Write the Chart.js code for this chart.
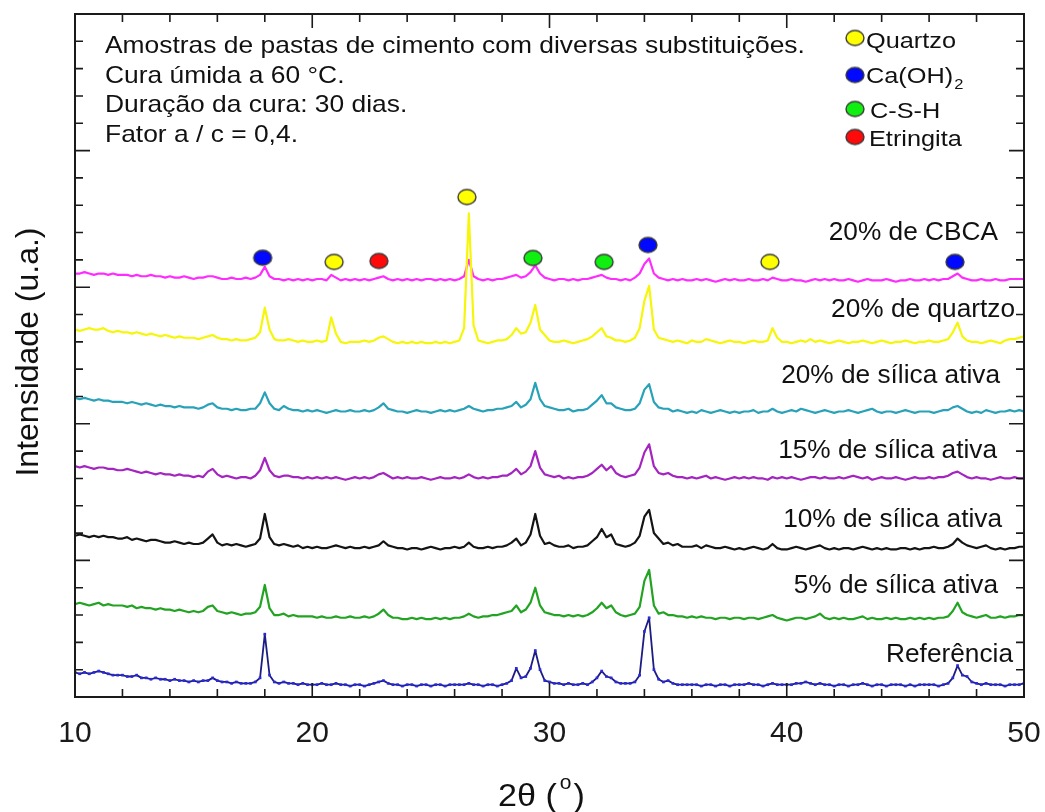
<!DOCTYPE html>
<html lang="pt">
<head>
<meta charset="utf-8">
<title>DRX – pastas de cimento</title>
<script src="https://cdn.jsdelivr.net/npm/chart.js@4/dist/chart.umd.min.js"></script>
<style>
  html, body { margin: 0; padding: 0; background: #fff; }
  canvas { display: block; }
</style>
</head>
<body>
<canvas id="xrd" width="1045" height="812"></canvas>
<script>
// 2θ sampling of the diffractograms (degrees)
const TWO_THETA_START = 10;
const TWO_THETA_STEP = 0.2;

// Series names (bottom to top) and vertical offsets of each pattern (a.u.)
const SERIES_NAMES = ['Referência', '5% de sílica ativa', '10% de sílica ativa', '15% de sílica ativa',
                      '20% de sílica ativa', '20% de quartzo', '20% de CBCA'];
const SERIES_OFFSETS = [8, 57, 108, 160, 209, 260, 305];

// Intensities above each offset, one value per 0.2° from 10° to 50°
const REF = [
  10,9,10,9,10,11,10,9,8,8,  8,7,7,8,6,6,5,6,5,5,  4,5,4,4,3,4,3,4,4,6,  4,3,3,2,3,2,2,2,3,6,
  38,8,3,2,3,2,2,1,2,1,  1,1,2,1,1,2,1,1,0,1,  1,0,1,2,3,4,2,1,1,0,  1,1,0,1,1,0,1,1,0,1,
  1,1,1,2,1,1,0,1,1,0,  1,2,4,13,6,7,13,26,12,4,  3,2,2,1,2,1,1,2,1,3,  6,11,7,6,3,2,2,2,3,8,
  40,50,12,5,3,4,2,1,1,1,  1,1,0,1,1,0,1,1,0,1,  1,1,2,1,1,0,1,2,1,1,  1,1,2,2,3,2,1,2,1,1,
  0,1,1,0,1,1,2,1,0,1,  1,0,1,1,1,0,1,0,1,1,  1,1,0,1,2,6,15,8,7,3,  2,1,2,1,1,1,0,1,1,1,
  2];
const SILICA_5 = [
  11,12,11,10,11,12,10,11,10,10,  10,9,10,8,9,8,8,7,8,7,  7,6,7,6,5,6,5,6,9,10,  6,5,4,5,4,3,4,4,5,9,
  25,8,3,3,4,2,3,2,2,2,  2,1,2,1,1,2,1,1,2,1,  1,2,1,2,4,7,3,1,1,0,  0,1,0,1,0,0,1,0,1,0,
  1,1,2,4,2,1,2,2,3,3,  4,5,6,10,5,7,12,23,10,5,  4,3,3,2,3,2,3,2,3,5,  8,12,8,10,5,3,2,3,4,9,
  28,36,10,4,5,3,3,2,2,1,  2,1,2,1,1,0,1,1,0,1,  1,0,1,1,0,1,2,3,1,0,  -1,0,1,1,0,1,2,4,1,0,
  1,0,1,0,0,1,2,0,1,0,  0,1,0,1,0,0,1,0,1,0,  1,0,1,1,2,6,12,5,3,2,  1,2,3,1,1,2,1,2,2,3,
  3];
const SILICA_10 = [
  10,11,10,9,10,9,10,9,9,8,  8,9,7,8,7,6,7,7,6,5,  5,6,5,4,5,4,4,5,8,11,  5,3,4,3,4,3,2,3,4,8,
  26,9,4,3,4,3,2,3,1,2,  1,2,1,1,2,3,2,1,2,1,  1,2,1,2,3,6,3,2,1,1,  0,1,1,0,1,2,1,0,1,1,
  2,1,2,5,2,1,1,2,1,2,  2,3,5,8,3,5,11,26,10,4,  5,3,2,2,3,1,2,2,3,6,  9,15,9,11,4,3,2,3,5,10,
  24,29,12,8,4,5,3,4,2,2,  2,3,1,3,2,1,1,2,1,0,  1,0,1,2,1,0,1,4,1,0,  0,1,2,1,0,1,2,3,1,0,
  1,0,1,1,0,1,2,1,0,1,  0,1,0,0,1,1,0,1,0,1,  1,2,1,1,2,4,8,5,3,2,  1,2,3,1,0,1,0,1,1,2,
  2];
const SILICA_15 = [
  9,8,9,8,7,8,8,7,7,6,  6,7,6,5,4,5,4,3,4,3,  3,2,3,2,2,1,2,1,5,7,  3,1,2,1,0,1,1,0,2,6,
  15,6,2,1,2,2,1,1,0,1,  0,1,0,1,0,1,0,-1,0,1,  0,1,0,1,3,4,2,0,1,0,  1,0,0,1,0,-1,0,1,0,0,
  1,0,1,3,1,0,1,0,1,1,  2,2,4,7,3,5,9,20,8,3,  2,1,2,0,1,0,1,1,2,4,  7,10,6,9,4,2,1,2,3,8,
  19,25,9,4,3,4,2,1,1,0,  1,0,1,2,0,1,0,-1,0,1,  0,1,0,1,0,0,-1,1,0,1,  0,1,0,-1,0,1,1,0,1,0,
  0,1,0,1,2,1,0,1,-1,0,  1,0,0,1,0,-1,0,1,0,0,  1,0,1,1,2,4,5,3,1,0,  1,0,0,-1,0,1,0,0,1,0,
  0];
const SILICA_20 = [
  10,9,10,9,8,9,8,8,7,7,  7,6,7,6,5,6,5,4,5,4,  4,3,4,3,3,3,2,3,5,6,  3,2,2,1,2,1,1,2,2,6,
  14,6,2,1,4,2,1,1,0,1,  0,1,0,-1,0,1,0,0,1,0,  0,1,0,1,3,6,2,1,0,0,  -1,0,1,0,0,-1,0,1,0,1,
  0,1,2,4,2,1,0,1,1,2,  2,3,4,7,3,5,9,21,9,4,  3,2,1,1,2,0,1,1,2,5,  8,12,6,6,3,2,1,1,2,6,
  16,20,7,3,2,2,0,1,0,-1,  0,-1,1,0,-1,0,1,0,-1,0,  -1,0,0,1,-1,0,0,2,0,-1,  0,1,0,2,1,0,-1,0,1,0,
  -1,0,0,1,0,-1,0,1,2,0,  -1,0,0,-1,0,1,0,-1,0,0,  0,-1,0,1,1,3,4,2,0,-1,  0,-1,1,0,-1,0,0,1,0,1,
  0];
const QUARTZO_20 = [
  9,8,9,10,9,9,10,8,7,8,  7,7,6,7,6,5,6,5,4,5,  4,3,4,3,3,3,2,3,4,5,  3,2,2,1,2,1,1,2,3,7,
  25,9,2,1,1,2,1,0,1,0,  0,1,0,1,18,6,0,-1,0,0,  0,1,0,1,3,4,2,0,-1,0,  -1,0,-1,0,-1,-1,0,-1,0,-1,
  0,1,10,94,12,1,0,-1,0,1,  1,2,5,10,6,7,14,27,9,5,  1,0,0,1,0,-1,0,1,2,4,  7,10,4,3,1,1,0,1,3,10,
  30,41,9,3,2,1,0,1,0,-1,  1,0,0,2,1,0,-1,0,1,0,  0,-1,0,1,0,0,1,10,3,0,  0,-1,0,1,0,2,0,1,0,-1,
  0,1,0,-1,0,0,1,0,-1,0,  1,0,-1,0,0,1,0,-1,0,0,  1,0,0,1,2,7,14,4,1,0,  0,-1,0,1,0,-1,1,2,2,3,
  4];
const CBCA_20 = [
  5,5,6,5,4,5,5,4,5,4,  4,4,3,4,3,3,4,3,3,2,  3,2,2,3,2,1,2,2,3,3,  2,1,1,2,1,1,2,1,2,4,
  10,3,1,1,0,1,0,1,0,1,  0,1,1,0,4,2,0,1,0,1,  0,1,0,1,2,3,1,0,1,0,  1,0,1,0,1,1,0,1,0,1,
  0,1,3,15,3,1,0,1,0,1,  1,2,3,4,2,3,6,11,5,2,  1,0,1,1,0,1,0,1,1,2,  3,4,2,1,1,0,1,0,2,5,
  12,16,5,2,1,0,1,0,1,0,  0,1,0,1,0,-1,0,1,0,1,  0,0,1,0,0,1,0,2,1,0,  0,1,0,0,-1,0,1,0,1,0,
  1,0,0,1,0,-1,0,1,0,0,  0,1,0,-1,0,0,1,0,0,1,  0,1,0,1,1,3,5,2,1,0,  0,1,0,0,1,0,0,1,1,1,
  1];
const SERIES_VALUES = [REF, SILICA_5, SILICA_10, SILICA_15, SILICA_20, QUARTZO_20, CBCA_20];

// Phase identification markers above the CBCA pattern
const PHASES = ['Quartzo', 'Ca(OH)2', 'C-S-H', 'Etringita'];
const MARK_2THETA = [17.91, 20.92, 22.81, 26.52, 29.30, 32.30, 34.15, 39.29, 47.09];
const MARK_LEVEL  = [321.6, 318.5, 319.2, 366.0, 321.4, 318.5, 330.9, 318.5, 318.5];
const MARK_PHASE  = ['Ca(OH)2', 'Quartzo', 'Etringita', 'Quartzo', 'C-S-H', 'C-S-H', 'Ca(OH)2', 'Quartzo', 'Ca(OH)2'];

// Axis ranges and tick steps
const X_MIN = 10, X_MAX = 50, X_MAJOR = 10, X_MINOR = 2;
const Y_MIN = 0, Y_MAX = 500, Y_MAJOR = 100, Y_MINOR = 20;

// ---- styling ----
const SERIES_COLORS = ['#1c1c84', '#22a322', '#141414', '#a424c0', '#28a2b8', '#f6f60a', '#ff2cff'];
const PHASE_COLORS = { 'Quartzo': '#ffff00', 'Ca(OH)2': '#0008ff', 'C-S-H': '#10f010', 'Etringita': '#ff0a0a' };
const FONT = '"Liberation Sans", Arial, Helvetica, sans-serif';

function ellipseMarker(fill) {
  const c = document.createElement('canvas');
  c.width = 22; c.height = 19;
  const g = c.getContext('2d');
  g.beginPath();
  g.ellipse(11, 9.5, 9, 7.5, 0, 0, Math.PI * 2);
  g.fillStyle = fill; g.fill();
  g.lineWidth = 1.4; g.strokeStyle = '#3a3a3a'; g.stroke();
  return c;
}
const PHASE_MARKERS = {};
PHASES.forEach(p => { PHASE_MARKERS[p] = ellipseMarker(PHASE_COLORS[p]); });

// text with optional horizontal stretch
function putText(ctx, text, x, y, size, sx, align) {
  ctx.save();
  ctx.font = size + 'px ' + FONT;
  ctx.textBaseline = 'alphabetic';
  ctx.textAlign = 'left';
  const w = ctx.measureText(text).width * sx;
  const x0 = align === 'right' ? x - w : (align === 'center' ? x - w / 2 : x);
  ctx.translate(x0, y);
  ctx.scale(sx, 1);
  ctx.fillText(text, 0, 0);
  ctx.restore();
  return w;
}

const traceDatasets = SERIES_VALUES.map((vals, s) => {
  const isRef = s === 0;
  return {
    label: SERIES_NAMES[s],
    data: vals.map((v, i) => ({ x: TWO_THETA_START + i * TWO_THETA_STEP, y: SERIES_OFFSETS[s] + v })),
    showLine: true,
    borderColor: SERIES_COLORS[s],
    borderWidth: isRef ? 1.8 : 2.2,
    borderJoinStyle: 'round',
    tension: 0,
    pointRadius: isRef ? 1.9 : 0,
    pointStyle: 'rect',
    pointBackgroundColor: '#2a2ad8',
    pointBorderWidth: 0
  };
});

const markerDataset = {
  label: 'fases',
  data: MARK_2THETA.map((t, i) => ({ x: t, y: MARK_LEVEL[i] })),
  showLine: false,
  pointStyle: MARK_PHASE.map(p => PHASE_MARKERS[p]),
  pointRadius: 9
};

const decorations = {
  id: 'decorations',
  afterDatasetsDraw(chart) {
    const { ctx, chartArea: a, scales: { x, y } } = chart;
    ctx.save();
    ctx.strokeStyle = '#1a1a1a';
    // inward ticks on all four sides
    ctx.lineWidth = 1.6;
    ctx.beginPath();
    for (let k = 0; k <= (X_MAX - X_MIN) / X_MINOR; k++) {
      const v = X_MIN + k * X_MINOR;
      const px = x.getPixelForValue(v);
      const len = ((v - X_MIN) % X_MAJOR === 0) ? 14 : 8;
      ctx.moveTo(px, a.bottom); ctx.lineTo(px, a.bottom - len);
      ctx.moveTo(px, a.top); ctx.lineTo(px, a.top + len);
    }
    for (let k = 0; k <= (Y_MAX - Y_MIN) / Y_MINOR; k++) {
      const v = Y_MIN + k * Y_MINOR;
      const py = y.getPixelForValue(v);
      const len = ((v - Y_MIN) % Y_MAJOR === 0) ? 15 : 8;
      ctx.moveTo(a.left, py); ctx.lineTo(a.left + len, py);
      ctx.moveTo(a.right, py); ctx.lineTo(a.right - len, py);
    }
    ctx.stroke();
    // frame
    ctx.lineWidth = 2;
    ctx.strokeRect(a.left, a.top, a.right - a.left, a.bottom - a.top);

    ctx.fillStyle = '#111';
    // sample description
    const notes = ['Amostras de pastas de cimento com diversas substituições.',
                   'Cura úmida a 60 °C.', 'Duração da cura: 30 dias.', 'Fator a / c = 0,4.'];
    notes.forEach((t, i) => putText(ctx, t, 105, 53 + i * 29.7, 24, 1.1, 'left'));

    // phase key
    const keyY = [38, 75, 109, 137];
    const keyBase = [48, 83, 118, 146];
    const keyX = [866, 866, 870, 869];
    PHASES.forEach((p, i) => {
      const m = PHASE_MARKERS[p];
      ctx.drawImage(m, 855 - m.width / 2, keyY[i] - m.height / 2);
      if (p === 'Ca(OH)2') {
        const w = putText(ctx, 'Ca(OH)', keyX[i], keyBase[i], 22, 1.15, 'left');
        putText(ctx, '2', keyX[i] + w + 1, keyBase[i] + 6, 15, 1.1, 'left');
      } else {
        putText(ctx, p, keyX[i], keyBase[i], 22, 1.15, 'left');
      }
    });

    // pattern labels
    const labRight = [1013, 998, 1002, 997, 1000, 1015, 998];
    const labBase = [662, 593, 527, 458, 383, 317, 240];
    SERIES_NAMES.forEach((n, i) => putText(ctx, n, labRight[i], labBase[i], 25, 1.05, 'right'));

    // axis titles
    ctx.save();
    ctx.translate(38, 352);
    ctx.rotate(-Math.PI / 2);
    ctx.font = '32px ' + FONT;
    ctx.textAlign = 'center';
    ctx.textBaseline = 'alphabetic';
    ctx.fillText('Intensidade (u.a.)', 0, 0);
    ctx.restore();

    let tx = 498;
    tx += putText(ctx, '2θ (', tx, 806, 31, 1.1, 'left');
    tx += 3;
    tx += putText(ctx, 'o', tx, 789, 20, 1.05, 'left');
    tx += 2;
    putText(ctx, ')', tx, 806, 31, 1.1, 'left');
    ctx.restore();
  }
};

new Chart(document.getElementById('xrd'), {
  type: 'scatter',
  data: { datasets: [markerDataset, ...traceDatasets] },
  options: {
    responsive: false,
    devicePixelRatio: 1,
    animation: false,
    layout: { padding: { top: 14, right: 21, left: 0, bottom: 0 } },
    plugins: { legend: { display: false }, tooltip: { enabled: false } },
    scales: {
      x: {
        type: 'linear', min: X_MIN, max: X_MAX,
        grid: { display: false },
        border: { display: false },
        ticks: { stepSize: X_MAJOR, padding: 11, color: '#1a1a1a', font: { family: FONT, size: 30 } },
        afterFit(scale) { scale.height = 115; scale.paddingLeft = 0; scale.paddingRight = 0; }
      },
      y: {
        type: 'linear', min: Y_MIN, max: Y_MAX,
        grid: { display: false },
        border: { display: false },
        ticks: { display: false },
        afterFit(scale) { scale.width = 75; }
      }
    }
  },
  plugins: [decorations]
});
</script>
</body>
</html>
